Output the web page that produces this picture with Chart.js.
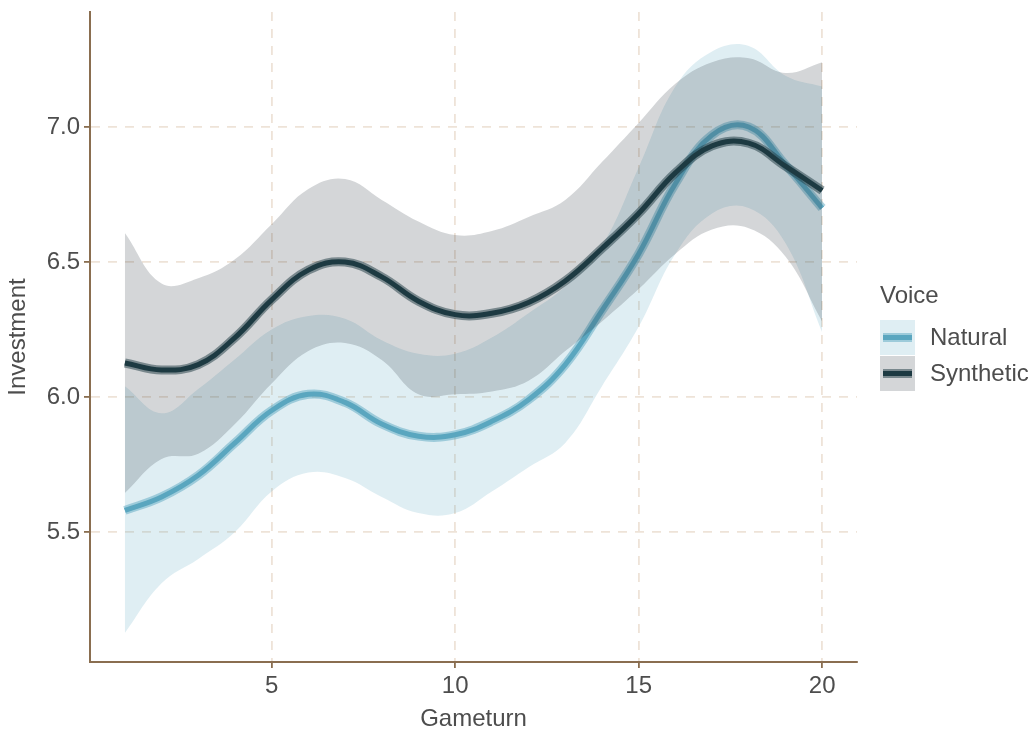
<!DOCTYPE html>
<html>
<head>
<meta charset="utf-8">
<script src="https://cdn.jsdelivr.net/npm/chart.js@4.4.1/dist/chart.umd.min.js"></script>
<style>
  html, body { margin: 0; padding: 0; background: #ffffff; }
  #wrap { width: 1035px; height: 734px; position: relative; }
</style>
</head>
<body>
<div id="wrap"><canvas id="chart" width="1035" height="734"></canvas></div>
<script>
// Smoothed investment by game turn, with confidence bands, per voice type
const gameturn = [1, 2, 3, 4, 5, 6, 7, 8, 9, 10, 11, 12, 13, 14, 15, 16, 17, 18, 19, 20];

const naturalFit   = [5.58, 5.63, 5.71, 5.83, 5.95, 6.01, 5.98, 5.90, 5.855, 5.86, 5.91, 5.99, 6.12, 6.32, 6.53, 6.79, 6.97, 7.00, 6.86, 6.70];
const naturalUpper = [6.04, 5.94, 6.03, 6.14, 6.25, 6.30, 6.29, 6.21, 6.16, 6.16, 6.22, 6.31, 6.41, 6.56, 6.85, 7.15, 7.28, 7.30, 7.19, 7.15];
const naturalLower = [5.126, 5.31, 5.40, 5.50, 5.65, 5.72, 5.70, 5.63, 5.57, 5.57, 5.65, 5.74, 5.83, 6.04, 6.26, 6.53, 6.68, 6.70, 6.57, 6.24];

const syntheticFit   = [6.126, 6.10, 6.12, 6.22, 6.36, 6.47, 6.50, 6.445, 6.355, 6.305, 6.31, 6.35, 6.43, 6.55, 6.68, 6.83, 6.93, 6.94, 6.855, 6.765];
const syntheticUpper = [6.607, 6.42, 6.44, 6.51, 6.64, 6.77, 6.807, 6.73, 6.65, 6.60, 6.615, 6.667, 6.73, 6.87, 7.015, 7.16, 7.24, 7.255, 7.20, 7.24];
const syntheticLower = [5.644, 5.77, 5.79, 5.90, 6.05, 6.17, 6.20, 6.137, 6.01, 6.01, 6.02, 6.06, 6.17, 6.28, 6.40, 6.53, 6.62, 6.625, 6.52, 6.28];

const xTicks = [5, 10, 15, 20];
const yTicks = [5.5, 6.0, 6.5, 7.0];
const voices = ['Natural', 'Synthetic'];

const FONT = '"Liberation Sans", Arial, Helvetica, sans-serif';
const FS = 24;
const TEXT = '#4d4d4d';
const AXIS = '#8a6e50';
const GRID = '#eee3d8';

const palette = {
  Natural:   { ribbon: 'rgba(96,172,196,0.2)', halo: 'rgba(92,168,194,0.5)', core: '#5aa6bf' },
  Synthetic: { ribbon: 'rgba(40,52,62,0.2)',   halo: 'rgba(30,58,66,0.5)',   core: '#1d3a42' }
};

const pts = ys => gameturn.map((x, i) => ({ x: x, y: ys[i] }));

function bound(ys) {
  return { data: pts(ys), borderWidth: 0, borderColor: 'rgba(0,0,0,0)', pointRadius: 0, tension: 0.4, fill: false };
}
function line(ys, color, width) {
  return { data: pts(ys), borderWidth: width, borderColor: color, pointRadius: 0, tension: 0.4, fill: false,
           borderCapStyle: 'butt', borderJoinStyle: 'round' };
}

const datasets = [
  bound(naturalUpper),
  Object.assign(bound(naturalLower), { fill: 0, backgroundColor: palette.Natural.ribbon }),
  line(naturalFit, palette.Natural.halo, 9),
  line(naturalFit, palette.Natural.core, 5),
  bound(syntheticUpper),
  Object.assign(bound(syntheticLower), { fill: 4, backgroundColor: palette.Synthetic.ribbon }),
  line(syntheticFit, palette.Synthetic.halo, 9),
  line(syntheticFit, palette.Synthetic.core, 5)
];
// later datasets are painted above earlier ones
datasets.forEach((d, i) => { d.order = datasets.length - 1 - i; });

// Legend drawn beside the plot panel
const voiceLegend = {
  id: 'voiceLegend',
  afterDraw(chart) {
    const ctx = chart.ctx;
    const x0 = chart.chartArea.right + 23;
    const keyTop = 320, key = 35, gap = 1;
    ctx.save();
    ctx.fillStyle = TEXT;
    ctx.font = FS + 'px ' + FONT;
    ctx.textAlign = 'left';
    ctx.textBaseline = 'alphabetic';
    ctx.fillText('Voice', x0, 303);
    voices.forEach((v, i) => {
      const y = keyTop + i * (key + gap);
      const p = palette[v];
      ctx.fillStyle = '#ffffff';
      ctx.fillRect(x0, y, key, key);
      ctx.fillStyle = p.ribbon;
      ctx.fillRect(x0, y, key, key);
      const cy = y + key / 2;
      ctx.lineCap = 'butt';
      ctx.strokeStyle = p.halo; ctx.lineWidth = 9;
      ctx.beginPath(); ctx.moveTo(x0 + 3, cy); ctx.lineTo(x0 + key - 3, cy); ctx.stroke();
      ctx.strokeStyle = p.core; ctx.lineWidth = 5;
      ctx.beginPath(); ctx.moveTo(x0 + 3, cy); ctx.lineTo(x0 + key - 3, cy); ctx.stroke();
      ctx.fillStyle = TEXT;
      ctx.textBaseline = 'middle';
      ctx.fillText(v, x0 + 50, cy + 1);
    });
    ctx.restore();
  }
};

new Chart(document.getElementById('chart'), {
  type: 'line',
  data: { datasets: datasets },
  plugins: [voiceLegend],
  options: {
    responsive: false,
    animation: false,
    events: [],
    layout: { padding: { top: 12, right: 178, left: 0, bottom: 0 } },
    plugins: { legend: { display: false }, tooltip: { enabled: false } },
    scales: {
      x: {
        type: 'linear',
        min: 0.05, max: 20.95,
        afterBuildTicks: s => { s.ticks = xTicks.map(v => ({ value: v })); },
        afterFit: s => { s.height = 72; s.paddingLeft = 0; s.paddingRight = 0; },
        grid: { color: GRID, lineWidth: 1.8, tickLength: 6, tickColor: AXIS, tickWidth: 1.8 },
        border: { display: true, color: AXIS, width: 2, dash: [9, 8] },
        ticks: { color: TEXT, font: { family: FONT, size: FS }, padding: 4, maxRotation: 0, autoSkip: false },
        title: { display: true, text: 'Gameturn', color: TEXT, font: { family: FONT, size: FS }, padding: { top: 0, bottom: 0 } }
      },
      y: {
        type: 'linear',
        min: 5.0185, max: 7.426,
        afterBuildTicks: s => { s.ticks = yTicks.map(v => ({ value: v })); },
        afterFit: s => { s.width = 90; s.paddingTop = 0; s.paddingBottom = 0; },
        grid: { color: GRID, lineWidth: 1.8, tickLength: 6, tickColor: AXIS, tickWidth: 1.8 },
        border: { display: true, color: AXIS, width: 2, dash: [9, 8] },
        ticks: { color: TEXT, font: { family: FONT, size: FS }, padding: 4, callback: v => Number(v).toFixed(1) },
        title: { display: true, text: 'Investment', color: TEXT, font: { family: FONT, size: FS }, padding: { top: 4, bottom: 0 } }
      }
    }
  }
});
</script>
</body>
</html>
